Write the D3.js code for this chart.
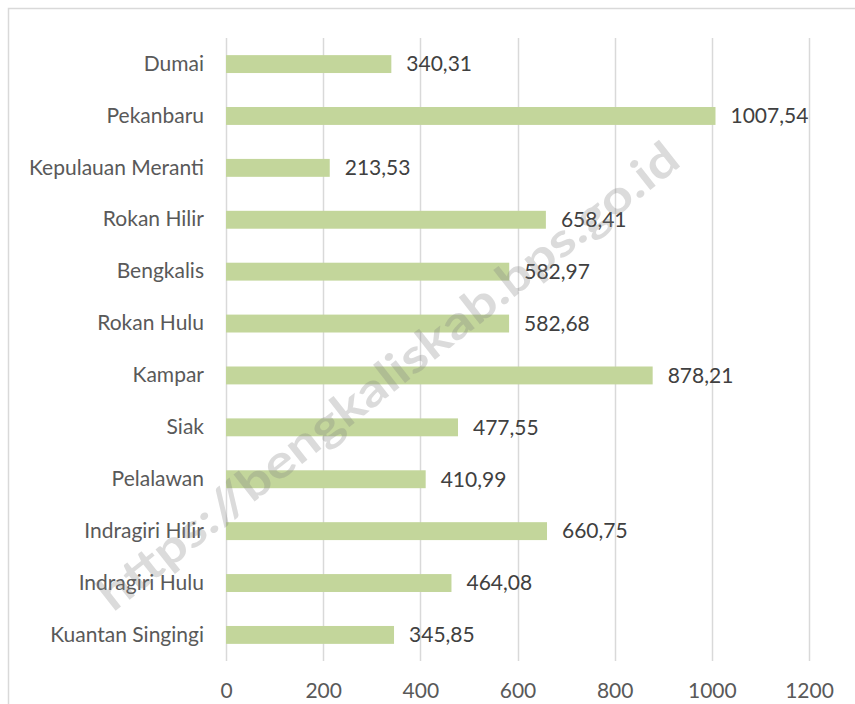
<!DOCTYPE html>
<html>
<head>
<meta charset="utf-8">
<script src="https://cdn.jsdelivr.net/npm/d3@7"></script>
<style>
  html, body { margin: 0; padding: 0; background: #fff; }
</style>
</head>
<body>
<div id="chart"></div>
<script>
  // data – top to bottom as in the chart
  const regions = [
    "Dumai", "Pekanbaru", "Kepulauan Meranti", "Rokan Hilir", "Bengkalis",
    "Rokan Hulu", "Kampar", "Siak", "Pelalawan", "Indragiri Hilir",
    "Indragiri Hulu", "Kuantan Singingi"
  ];
  const values = [
    340.31, 1007.54, 213.53, 658.41, 582.97,
    582.68, 878.21, 477.55, 410.99, 660.75,
    464.08, 345.85
  ];
  const xTicks = [0, 200, 400, 600, 800, 1000, 1200];
  const watermark = "https://bengkaliskab.bps.go.id";

  const W = 855, H = 704;
  const margin = { top: 38, left: 226, right: 46, bottom: 43 };
  const fontFam = "Lato, 'Open Sans', sans-serif";
  const fs = 21;

  const svg = d3.select("#chart").append("svg")
      .attr("width", W)
      .attr("height", H)
      .style("display", "block");

  // outer chart border (cropped at right/bottom)
  svg.append("rect")
      .attr("x", 8.5).attr("y", 8.5)
      .attr("width", W + 10).attr("height", H + 10)
      .attr("fill", "#fff")
      .attr("stroke", "#d9d9d9")
      .attr("stroke-width", 1.5);

  const x = d3.scaleLinear()
      .domain([0, 1200])
      .range([margin.left, W - margin.right]);

  const y = d3.scaleBand()
      .domain(regions)
      .range([margin.top, H - margin.bottom])
      .paddingInner(0.655)
      .paddingOuter(0.33);

  // gridlines
  const gy0 = margin.top, gy1 = H - margin.bottom;
  svg.append("g")
    .selectAll("line")
    .data(xTicks)
    .join("line")
      .attr("x1", d => Math.round(x(d)) + 0.5)
      .attr("x2", d => Math.round(x(d)) + 0.5)
      .attr("y1", gy0)
      .attr("y2", gy1)
      .attr("stroke", "#d9d9d9")
      .attr("stroke-width", 1.5);

  // x axis labels
  const xAxis = d3.axisBottom(x).tickValues(xTicks)
      .tickFormat(d3.format("d")).tickSize(0).tickPadding(0);
  const gx = svg.append("g")
      .attr("transform", `translate(0,${gy1 + 22})`)
      .call(xAxis);
  gx.select(".domain").remove();
  gx.selectAll("text")
      .attr("font-family", fontFam)
      .attr("font-size", fs)
      .attr("fill", "#595959");

  // y axis labels
  const yAxis = d3.axisLeft(y).tickSize(0).tickPadding(22);
  const gyA = svg.append("g")
      .attr("transform", `translate(${margin.left},0)`)
      .call(yAxis);
  gyA.select(".domain").remove();
  gyA.selectAll("text")
      .attr("font-family", fontFam)
      .attr("font-size", fs)
      .attr("fill", "#595959");

  // bars
  svg.append("g")
    .selectAll("rect")
    .data(values)
    .join("rect")
      .attr("x", x(0))
      .attr("y", (d, i) => y(regions[i]))
      .attr("width", d => x(d) - x(0))
      .attr("height", y.bandwidth())
      .attr("fill", "#c3d69b");

  // value labels (comma decimal)
  svg.append("g")
    .selectAll("text")
    .data(values)
    .join("text")
      .attr("x", d => x(d) + 15)
      .attr("y", (d, i) => y(regions[i]) + y.bandwidth() / 2)
      .attr("dy", "0.35em")
      .attr("font-family", fontFam)
      .attr("font-size", fs)
      .attr("fill", "#404040")
      .text(d => d.toFixed(2).replace(".", ","));

  // watermark
  svg.append("text")
      .attr("transform", "translate(388,376) rotate(-38.2)")
      .attr("text-anchor", "middle")
      .attr("dy", "0.35em")
      .attr("font-family", fontFam)
      .attr("font-weight", "bold")
      .attr("font-size", 46)
      .attr("textLength", 725)
      .attr("lengthAdjust", "spacingAndGlyphs")
      .attr("fill", "#7f7f7f")
      .attr("fill-opacity", 0.28)
      .text(watermark);
</script>
</body>
</html>
